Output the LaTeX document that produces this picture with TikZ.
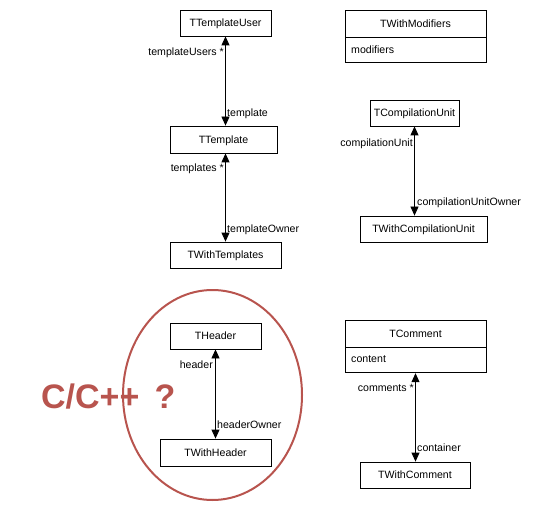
\documentclass[tikz,border=0pt]{standalone}
\usepackage{fontspec}
\setmainfont{Liberation Sans}
\usetikzlibrary{arrows.meta,calc}
\definecolor{cred}{RGB}{184,84,78}
\tikzset{
  cls/.style={draw=black, line width=0.8pt, fill=white, inner sep=0pt, text height=7.6pt, text depth=0pt, font=\fontsize{10.6}{12}\selectfont},
  lbl/.style={inner sep=0pt, text height=7.6pt, text depth=0pt, font=\fontsize{10.6}{12}\selectfont},
  assoc/.style={line width=0.8pt, {Triangle[length=9pt,width=8pt]}-{Triangle[length=9pt,width=8pt]}},
}
\begin{document}
\begin{tikzpicture}[x=1pt,y=-1pt]
\useasboundingbox (0,0) rectangle (534,510);
% left column
\node[cls, minimum width=91pt, minimum height=26pt] (tuser) at (225.5,23) {TTemplateUser};
\node[cls, minimum width=107pt, minimum height=27pt] (ttempl) at (223.5,139.5) {TTemplate};
\node[cls, minimum width=111pt, minimum height=26pt] (twtempl) at (225.5,255) {TWithTemplates};
\draw[assoc] (tuser.south) -- (ttempl.north -| tuser.south);
\draw[assoc] (ttempl.south -| tuser.south) -- (twtempl.north -| tuser.south);
\node[lbl, anchor=east] (l1) at (224,52) {templateUsers *};
\node[lbl, anchor=west] (l2) at (227,113) {template};
\node[lbl, anchor=east] (l3) at (224,168) {templates *};
\node[lbl, anchor=west] (l4) at (227,229) {templateOwner};
% right column top
\node[cls, minimum width=141pt, minimum height=27pt] (tmod) at (415.5,23.5) {TWithModifiers};
\node[cls, minimum width=141pt, minimum height=25pt, anchor=north] (tmodc) at (tmod.south) {};
\node[lbl, anchor=west] (lmod) at (351,49.5) {modifiers};
\node[cls, minimum width=89pt, minimum height=26pt] (tcu) at (414.5,113) {TCompilationUnit};
\node[cls, minimum width=127pt, minimum height=26pt] (twcu) at (423.5,229) {TWithCompilationUnit};
\draw[assoc] (tcu.south) -- (twcu.north -| tcu.south);
\node[lbl, anchor=east] (l5) at (413,143) {compilationUnit};
\node[lbl, anchor=west] (l6) at (417,202) {compilationUnitOwner};
% header
\node[cls, minimum width=91pt, minimum height=26pt] (thead) at (215.5,336) {THeader};
\node[cls, minimum width=111pt, minimum height=27pt] (twhead) at (215.5,452.5) {TWithHeader};
\draw[assoc] (thead.south) -- (twhead.north);
\node[lbl, anchor=east] (l7) at (213,365) {header};
\node[lbl, anchor=west] (l8) at (217,425) {headerOwner};
% comment
\node[cls, minimum width=141pt, minimum height=27pt] (tcom) at (415.5,333.5) {TComment};
\node[cls, minimum width=141pt, minimum height=25pt, anchor=north] (tcomc) at (tcom.south) {};
\node[lbl, anchor=west] (lcont) at (351,359) {content};
\node[cls, minimum width=110pt, minimum height=26pt] (twcom) at (415,475) {TWithComment};
\draw[assoc] (tcomc.south) -- (twcom.north -| tcomc.south);
\node[lbl, anchor=east] (l9) at (414,388) {comments *};
\node[lbl, anchor=west] (l10) at (417,448) {container};
% C/C++ ? annotation
\node[inner sep=0pt, anchor=west, text=cred, font=\fontsize{34}{36}\selectfont\bfseries] (cq) at (41,397) {C/C++\hspace{0.45em}?};
\draw[cred, line width=2pt] (212.5,395) ellipse [x radius=89.5pt, y radius=105pt];
\end{tikzpicture}
\end{document}
